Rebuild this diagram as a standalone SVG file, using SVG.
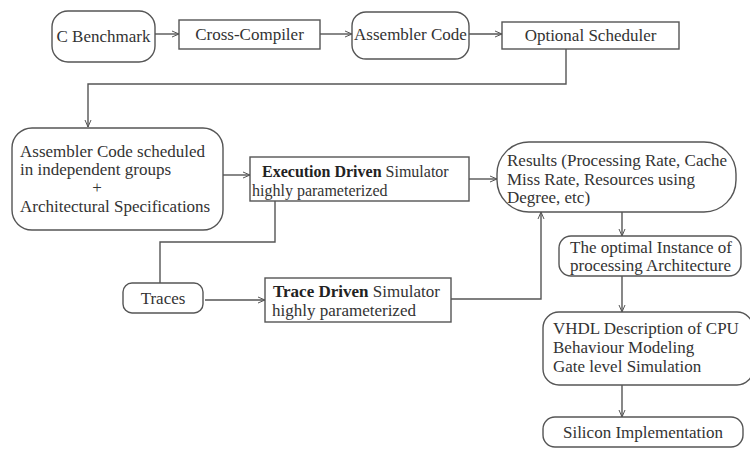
<svg xmlns="http://www.w3.org/2000/svg" width="750" height="457" viewBox="0 0 750 457">
<defs>
<marker id="ah" markerWidth="8" markerHeight="8" refX="7" refY="4" orient="auto" markerUnits="userSpaceOnUse">
<path d="M0,1 L7,4 L0,7" fill="none" stroke="#555" stroke-width="1"/>
</marker>
<style>
.n{fill:#fff;stroke:#555;stroke-width:1.4}
text,tspan{font-family:'Liberation Serif','Times New Roman',Tinos,serif;font-size:17px;fill:#333}
.s,.s tspan{font-size:16px}
.b{font-weight:bold;fill:#222}
.c{fill:none;stroke:#555;stroke-width:1.4}
</style>
</defs>
<rect width="750" height="457" fill="#fff"/>
<g id="connectors">
<path class="c" d="M155,34 H179" marker-end="url(#ah)"/>
<path class="c" d="M320,34 H352" marker-end="url(#ah)"/>
<path class="c" d="M469,34 H502" marker-end="url(#ah)"/>
<path class="c" d="M566,49 V84 H88 V127" marker-end="url(#ah)"/>
<path class="c" d="M223,175 H250" marker-end="url(#ah)"/>
<path class="c" d="M469,179 H497" marker-end="url(#ah)"/>
<path class="c" d="M275,201 V242 H160 V283"/>
<path class="c" d="M205,300 H265" marker-end="url(#ah)"/>
<path class="c" d="M451,299 H541 V212" marker-end="url(#ah)"/>
<path class="c" d="M622,212 V236" marker-end="url(#ah)"/>
<path class="c" d="M622,276 V312" marker-end="url(#ah)"/>
<path class="c" d="M622,385 V417" marker-end="url(#ah)"/>
</g>
<g id="c-benchmark">
<rect class="n" x="52" y="11" width="103" height="51" rx="16"/>
<text x="103.5" y="42" text-anchor="middle">C Benchmark</text>
</g>
<g id="cross-compiler">
<rect class="n" x="179" y="20" width="141" height="29"/>
<text x="249.5" y="40" text-anchor="middle">Cross-Compiler</text>
</g>
<g id="assembler-code">
<rect class="n" x="352" y="12" width="117" height="47" rx="14"/>
<text x="410.5" y="40" text-anchor="middle">Assembler Code</text>
</g>
<g id="optional-scheduler">
<rect class="n" x="502" y="22" width="177" height="27"/>
<text x="590.5" y="41" text-anchor="middle">Optional Scheduler</text>
</g>
<g id="assembler-scheduled">
<rect class="n" x="12" y="128" width="211" height="102" rx="20"/>
<text x="20" y="157">Assembler Code scheduled</text>
<text x="20" y="175">in independent groups</text>
<text x="97" y="193" text-anchor="middle">+</text>
<text x="20" y="212">Architectural Specifications</text>
</g>
<g id="execution-driven">
<rect class="n" x="250" y="157" width="219" height="44"/>
<text class="s" x="262" y="177"><tspan class="b">Execution Driven</tspan> Simulator</text>
<text class="s" x="252" y="196">highly parameterized</text>
</g>
<g id="results">
<rect class="n" x="497" y="142" width="239" height="70" rx="32"/>
<text x="507" y="166">Results (Processing Rate, Cache</text>
<text x="507" y="185">Miss Rate, Resources using</text>
<text x="507" y="203">Degree, etc)</text>
</g>
<g id="traces">
<rect class="n" x="123" y="283" width="80" height="30" rx="9"/>
<text x="163" y="304" text-anchor="middle">Traces</text>
</g>
<g id="trace-driven">
<rect class="n" x="265" y="278" width="186" height="44"/>
<text x="273" y="297"><tspan class="b">Trace Driven</tspan> Simulator</text>
<text x="272" y="316">highly parameterized</text>
</g>
<g id="optimal-instance">
<rect class="n" x="559" y="236" width="182" height="40" rx="12"/>
<text x="570" y="253">The optimal Instance of</text>
<text x="570" y="271">processing Architecture</text>
</g>
<g id="vhdl">
<rect class="n" x="543" y="312" width="210" height="73" rx="16"/>
<text x="553" y="334">VHDL Description of CPU</text>
<text x="553" y="353">Behaviour Modeling</text>
<text x="553" y="372">Gate level Simulation</text>
</g>
<g id="silicon">
<rect class="n" x="543" y="417" width="200" height="30" rx="12"/>
<text x="643" y="438" text-anchor="middle">Silicon Implementation</text>
</g>
</svg>
